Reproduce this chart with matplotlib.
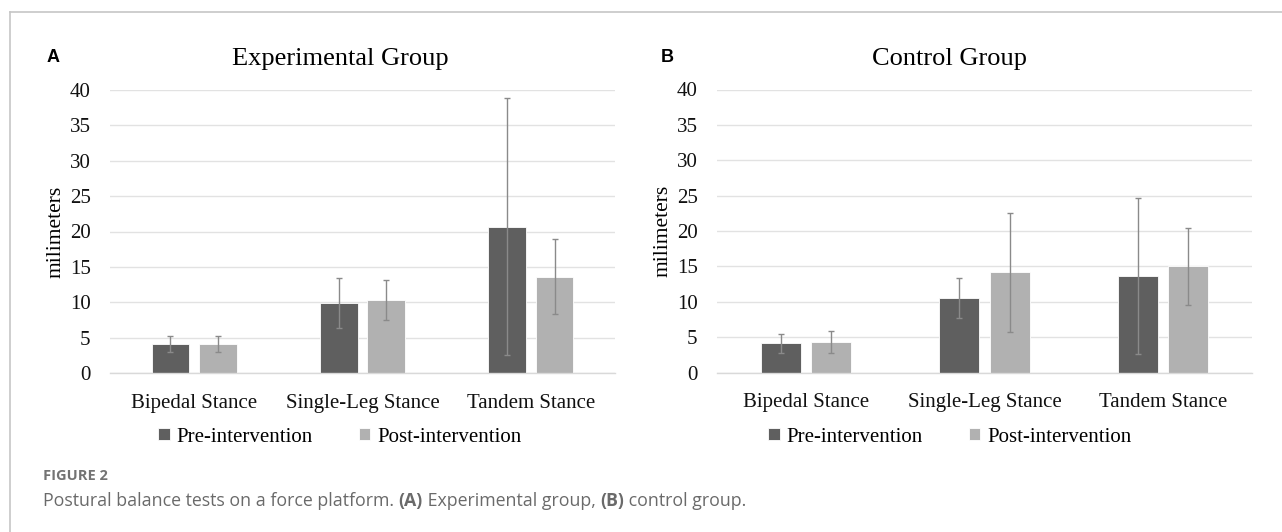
import matplotlib.pyplot as plt
import numpy as np
from matplotlib.lines import Line2D

categories = ["Bipedal Stance", "Single-Leg Stance", "Tandem Stance"]
series_names = ["Pre-intervention", "Post-intervention"]

exp_pre = [4.15, 9.9, 20.7]
exp_pre_sd = [1.15, 3.5, 18.1]
exp_post = [4.1, 10.35, 13.6]
exp_post_sd = [1.1, 2.8, 5.3]

ctl_pre = [4.1, 10.55, 13.65]
ctl_pre_sd = [1.3, 2.85, 11.0]
ctl_post = [4.3, 14.15, 15.0]
ctl_post_sd = [1.6, 8.4, 5.45]

yticks = [0, 5, 10, 15, 20, 25, 30, 35, 40]

dark = "#5f5f5f"
light = "#b1b1b1"
serif = ["Liberation Serif", "DejaVu Serif"]
sans = ["Open Sans", "DejaVu Sans"]

plt.rcParams["font.family"] = serif

W, H = 1282, 532
fig = plt.figure(figsize=(W / 100, H / 100), dpi=100)


def panel(rect, pre, pre_sd, post, post_sd, title, letter, letter_x, mid_x):
    ax = fig.add_axes(rect)
    x = np.arange(len(categories))
    w = 0.223
    off = 0.141
    err_kw = dict(ecolor="#8a8a8a", elinewidth=1.0, capsize=2.5, capthick=1.0)
    ax.bar(x - off, pre, w, yerr=pre_sd, color=dark, edgecolor="white",
           linewidth=0.6, error_kw=err_kw, zorder=2, label=series_names[0])
    ax.bar(x + off, post, w, yerr=post_sd, color=light, edgecolor="white",
           linewidth=0.6, error_kw=err_kw, zorder=2, label=series_names[1])
    ax.set_xlim(-0.5, 2.5)
    ax.set_ylim(0, 40)
    ax.set_yticks(yticks)
    ax.yaxis.grid(True, color="#e2e2e2", linewidth=1.0, zorder=0)
    ax.set_axisbelow(True)
    for s in ["top", "right", "left"]:
        ax.spines[s].set_visible(False)
    ax.spines["bottom"].set_color("#d9d9d9")
    ax.spines["bottom"].set_linewidth(1.0)
    ax.set_xticks(x)
    ax.set_xticklabels(categories)
    ax.tick_params(axis="both", length=0, labelsize=15, colors="#111111")
    ax.tick_params(axis="x", pad=15)
    ax.tick_params(axis="y", pad=14)
    ax.set_ylabel("milimeters", fontsize=15.5, labelpad=3)
    fig.text(mid_x / W, 1 - 65 / H, title, fontsize=19, ha="center",
             va="baseline")
    fig.text(letter_x / W, 1 - 62 / H, letter, fontsize=13, fontweight="bold",
             family=["Liberation Sans", "DejaVu Sans"], va="baseline")
    ax.legend(loc="center", bbox_to_anchor=(mid_x / W, 1 - 437 / H), ncol=2,
              bbox_transform=fig.transFigure, frameon=False, fontsize=15,
              handlelength=0.55, handleheight=0.55, handletextpad=0.35,
              columnspacing=2.2, borderaxespad=0, borderpad=0)
    return ax


panel([110 / W, 1 - 373 / H, 505 / W, 283 / H], exp_pre, exp_pre_sd,
      exp_post, exp_post_sd, "Experimental Group", "A", 47, 340)
panel([717 / W, 1 - 372.5 / H, 535 / W, 283 / H], ctl_pre, ctl_pre_sd,
      ctl_post, ctl_post_sd, "Control Group", "B", 661, 950)

# frame
fig.add_artist(Line2D([10 / W, 1.0], [1 - 12 / H, 1 - 12 / H], color="#c6c6c6", lw=1.2))
fig.add_artist(Line2D([10 / W, 10 / W], [0, 1 - 12 / H], color="#c6c6c6", lw=1.2))

# caption
cap = fig.add_axes([0, 0, 1, 1])
cap.axis("off")
cap.set_xlim(0, 1)
cap.set_ylim(0, 1)
cap_color = "#6a6a6a"
cap.text(43 / W, 1 - 480 / H, "FIGURE 2", fontsize=10.5, color="#737373",
         fontweight="bold", family=sans, va="baseline")
parts = [("Postural balance tests on a force platform. ", "normal"),
         ("(A)", "bold"), (" Experimental group, ", "normal"),
         ("(B)", "bold"), (" control group.", "normal")]
prev = cap.text(43 / W, 1 - 506 / H, parts[0][0], fontsize=12.8,
                color=cap_color, family=sans, va="baseline")
for txt, wt in parts[1:]:
    prev = cap.annotate(txt, xy=(1, 0), xycoords=prev, va="bottom", ha="left",
                        fontsize=12.8, color=cap_color, fontweight=wt,
                        family=sans, annotation_clip=False)

fig.savefig("out.png", dpi=100)
